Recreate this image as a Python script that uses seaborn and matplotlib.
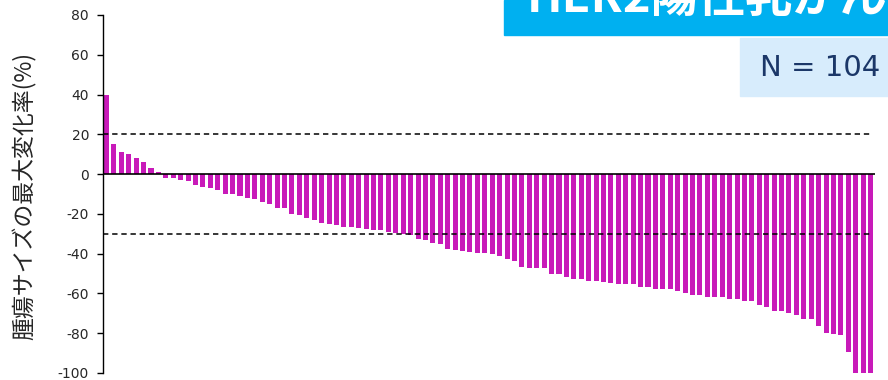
import numpy as np
import pandas as pd
import matplotlib
matplotlib.use("Agg")
import matplotlib.pyplot as plt
import seaborn as sns
from matplotlib.patches import Rectangle

# best change in tumour size per patient (%), sorted as in the waterfall
change = [
    40, 15, 11, 10, 8, 6, 3, 1, -2, -2, -3, -3.5, -5.4, -6.4, -7, -8, -10,
    -10, -11, -12, -12.6, -14, -15, -17, -17, -20, -20.6, -22, -23, -24.6,
    -25, -25.6, -26.6, -26.6, -27, -27.6, -28, -28, -29, -29.6, -30, -30.6,
    -32.6, -33, -34.6, -35, -37.6, -38, -38.6, -39, -39.6, -39.6, -40, -41,
    -42.6, -43.6, -46.6, -47, -47, -47, -50, -50, -51.6, -52.6, -52.6, -53.6,
    -53.6, -54, -54.6, -55, -55, -55, -56.6, -56.6, -57.6, -57.6, -58, -58.6,
    -59.6, -60.6, -61, -61.6, -61.6, -62, -62.6, -63, -63.6, -64, -66, -67,
    -68.6, -69, -70, -70.6, -72.6, -73, -76.6, -80, -80.6, -81, -89.6, -100,
    -100, -100,
]
patient = list(range(len(change)))
y_ticks = [80, 60, 40, 20, 0, -20, -40, -60, -80, -100]
ref_lines = [20, -30]

title = "HER2陽性乳がん"
n_label = "N = 104"
y_label = "腫瘍サイズの最大変化率(%)"

sns.set_style("white")
plt.rcParams["font.family"] = ["DejaVu Sans", "Noto Sans CJK JP"]

df = pd.DataFrame({"patient": patient, "change": change})

fig = plt.figure(figsize=(8.88, 3.80), dpi=100)
ax = fig.add_axes([103 / 888, 7 / 380, (875 - 103) / 888, (373 - 15) / 380])

sns.barplot(data=df, x="patient", y="change", color="#c81ab9",
            saturation=1, width=0.68, linewidth=0, edgecolor="none", ax=ax)

ax.set_xlim(-0.47, len(change) - 1 + 0.6)
ax.set_ylim(-100, 80)
ax.set_yticks(y_ticks)
ax.set_yticklabels([str(t) for t in y_ticks], fontsize=10)
ax.set_xticks([])
ax.set_xlabel("")
ax.set_ylabel("")

ax.axhline(0, color="black", lw=1.2)
for v in ref_lines:
    ax.axhline(v, color="black", lw=1.1, ls=(0, (3.5, 2.5)), xmax=0.997)

for s in ["top", "right", "bottom"]:
    ax.spines[s].set_visible(False)
ax.spines["left"].set_color("black")
ax.spines["left"].set_linewidth(1.0)
ax.tick_params(axis="y", left=True, length=4, width=1, color="black", pad=6)

fig.text(25 / 888, 1 - 196 / 380, y_label, rotation=90, ha="center",
         va="center", fontsize=16.5, family=["Noto Sans CJK JP", "DejaVu Sans"])

# header boxes (partly cut off in the source)
fig.patches.append(Rectangle((504 / 888, 1 - 35 / 380), 1 - 504 / 888, 35 / 380,
                             transform=fig.transFigure, color="#00b0f0", zorder=0))
fig.text(527 / 888, 1 - 12 / 380, title, ha="left", va="baseline", color="white",
         fontsize=34, fontweight="bold", family=["Noto Sans CJK JP", "DejaVu Sans"])

fig.patches.append(Rectangle((740 / 888, 1 - 96 / 380), 1 - 740 / 888, 58 / 380,
                             transform=fig.transFigure, color="#d7ecfc", zorder=0))
fig.text(760 / 888, 1 - 68 / 380, n_label, ha="left", va="center",
         color="#1b3768", fontsize=21)

fig.savefig("out.png", dpi=100)
